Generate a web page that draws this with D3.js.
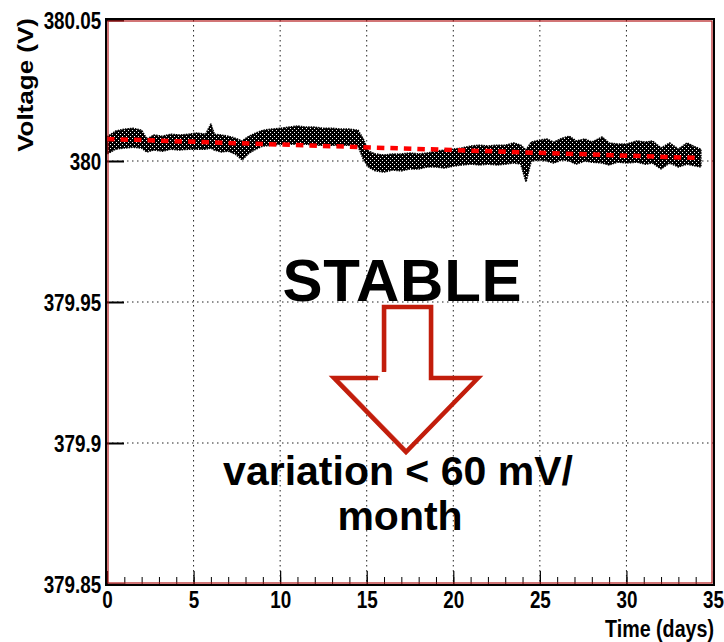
<!DOCTYPE html>
<html>
<head>
<meta charset="utf-8">
<script src="https://cdn.jsdelivr.net/npm/d3@7"></script>
<style>
  body { margin: 0; background: #fff; }
  svg text { font-family: "Liberation Sans", Arial, Helvetica, sans-serif; font-weight: bold; }
</style>
</head>
<body>
<svg id="chart" width="724" height="642"></svg>
<script>
// envelope of the black point cloud (V) and the red fit
var days = [0, 0.5, 1, 1.5, 2, 2.3, 2.7, 3.2, 3.7, 4.2, 4.7, 5.2, 5.7, 6, 6.2, 6.6, 7, 7.4, 7.8, 8.2,
  8.6, 9, 9.5, 10, 10.5, 11, 11.5, 12, 12.5, 13, 13.5, 14, 14.5, 14.8, 15.1, 15.5, 16, 16.5, 17, 17.5,
  18, 18.5, 19, 19.5, 20, 20.5, 21, 21.5, 22, 22.5, 23, 23.5, 23.9, 24.2, 24.5, 25, 25.4, 25.8, 26.3, 26.7,
  27.1, 27.6, 28, 28.6, 29, 29.5, 30, 30.6, 31.1, 31.5, 32, 32.5, 33, 33.5, 34, 34.3]
var upperV = [380.0085, 380.0106, 380.0113, 380.0116, 380.0109, 380.0078, 380.0092, 380.0088, 380.0095, 380.0092,
  380.0095, 380.0099, 380.0095, 380.0131, 380.0095, 380.0092, 380.0088, 380.0081, 380.0071, 380.0088,
  380.0099, 380.0109, 380.0113, 380.0116, 380.0120, 380.0124, 380.0120, 380.0120, 380.0116, 380.0116,
  380.0113, 380.0113, 380.0109, 380.0078, 380.0035, 380.0025, 380.0021, 380.0025, 380.0025, 380.0028,
  380.0025, 380.0028, 380.0035, 380.0039, 380.0042, 380.0046, 380.0053, 380.0056, 380.0053, 380.0056,
  380.0056, 380.0064, 380.0056, 380.0039, 380.0067, 380.0074, 380.0078, 380.0067, 380.0081, 380.0088,
  380.0071, 380.0078, 380.0067, 380.0085, 380.0064, 380.0060, 380.0060, 380.0071, 380.0067, 380.0071,
  380.0046, 380.0064, 380.0042, 380.0064, 380.0049, 380.0042]
var lowerV = [380.0025, 380.0042, 380.0046, 380.0049, 380.0046, 380.0032, 380.0039, 380.0035, 380.0042, 380.0039,
  380.0042, 380.0042, 380.0042, 380.0046, 380.0039, 380.0032, 380.0035, 380.0025, 380.0004, 380.0028,
  380.0042, 380.0053, 380.0056, 380.0060, 380.0060, 380.0060, 380.0060, 380.0056, 380.0056, 380.0056,
  380.0056, 380.0056, 380.0053, 380.0007, 379.9979, 379.9965, 379.9961, 379.9968, 379.9965, 379.9972,
  379.9972, 379.9979, 379.9979, 379.9975, 379.9982, 379.9986, 379.9989, 379.9986, 379.9989, 379.9986,
  379.9989, 379.9993, 379.9989, 379.9926, 380.0000, 380.0004, 380.0000, 379.9993, 380.0004, 380.0000,
  379.9989, 380.0000, 379.9996, 379.9993, 379.9986, 379.9996, 379.9993, 379.9996, 379.9989, 379.9993,
  379.9972, 379.9993, 379.9979, 379.9989, 379.9982, 379.9979]
var fitDays = [0, 34.1]
var fitV = [380.0078, 380.0011]

var xTicks = [0, 5, 10, 15, 20, 25, 30, 35]
var yTicks = [379.85, 379.9, 379.95, 380, 380.05]

var svg = d3.select("#chart")
var W = +svg.attr("width"), H = +svg.attr("height")
var margin = {left: 107, top: 20, right: 11, bottom: 58}
var plotW = W - margin.left - margin.right
var plotH = H - margin.top - margin.bottom

var x = d3.scaleLinear().domain([0, 35]).range([0, plotW])
var y = d3.scaleLinear().domain([379.85, 380.05]).range([plotH, 0])

// speckle texture so the cloud looks like dense markers, not a solid ribbon
var pat = svg.append("defs").append("pattern").attr("id", "speckle")
  .attr("width", 4).attr("height", 4).attr("patternUnits", "userSpaceOnUse")
pat.append("rect").attr("width", 4).attr("height", 4).attr("fill", "#000")
pat.append("rect").attr("x", 1).attr("y", 2).attr("width", 1).attr("height", 1).attr("fill", "#fff")
pat.append("rect").attr("x", 3).attr("y", 0).attr("width", 1).attr("height", 1).attr("fill", "#fff")

var g = svg.append("g").attr("transform", "translate(" + margin.left + "," + margin.top + ")")

// dotted grid
g.selectAll(".vgrid").data(xTicks.slice(1, -1)).enter().append("line")
  .attr("x1", function(d) { return x(d) }).attr("x2", function(d) { return x(d) })
  .attr("y1", 0).attr("y2", plotH)
  .attr("stroke", "#222").attr("stroke-width", 1).attr("stroke-dasharray", "1.5,3.5")
g.selectAll(".hgrid").data(yTicks.slice(1, -1)).enter().append("line")
  .attr("x1", 0).attr("x2", plotW)
  .attr("y1", function(d) { return y(d) }).attr("y2", function(d) { return y(d) })
  .attr("stroke", "#222").attr("stroke-width", 1).attr("stroke-dasharray", "1.5,3.5")

// point cloud envelope
var idx = d3.range(days.length)
var band = d3.area()
  .x(function(i) { return x(days[i]) })
  .y0(function(i) { return y(lowerV[i]) })
  .y1(function(i) { return y(upperV[i]) })
g.append("path").datum(idx).attr("d", band)
  .attr("fill", "url(#speckle)").attr("stroke", "#000").attr("stroke-width", 1.6)
  .attr("stroke-dasharray", "1.5,1").attr("stroke-linejoin", "round")

// linear fit
var fit = d3.line().x(function(i) { return x(fitDays[i]) }).y(function(i) { return y(fitV[i]) })
g.append("path").datum([0, 1]).attr("d", fit)
  .attr("fill", "none").attr("stroke", "#ff0000").attr("stroke-width", 4.5)
  .attr("stroke-dasharray", "7.5,6")

// axes
var yAxis = d3.axisLeft(y).tickValues(yTicks).tickSizeInner(-17).tickSizeOuter(0).tickPadding(7)
  .tickFormat(function(d) { return d3.format("")(+d.toFixed(2)) })
var ya = g.append("g").call(yAxis)
ya.select(".domain").remove()
ya.selectAll("line").attr("stroke", "#000").attr("stroke-width", 2)
ya.selectAll("text").attr("font-size", 23).attr("fill", "#000")
  .attr("transform", "scale(0.82,1)").attr("dy", "0.36em")

var xMinor = d3.axisBottom(x).tickValues(d3.range(0, 36, 1)).tickSizeInner(-7).tickSizeOuter(0).tickFormat("")
var xm = g.append("g").attr("transform", "translate(0," + plotH + ")").call(xMinor)
xm.select(".domain").remove()
xm.selectAll("line").attr("stroke", "#000").attr("stroke-width", 1)

var xAxis = d3.axisBottom(x).tickValues(xTicks).tickSizeInner(-13).tickSizeOuter(0).tickPadding(8)
var xa = g.append("g").attr("transform", "translate(0," + plotH + ")").call(xAxis)
xa.select(".domain").remove()
xa.selectAll("line").attr("stroke", "#000").attr("stroke-width", 1.2)
xa.selectAll("text").attr("font-size", 23).attr("fill", "#000").attr("transform", "scale(0.82,1)")

// frame: black outside, red inside
g.append("rect").attr("x", -1).attr("y", -1).attr("width", plotW + 2).attr("height", plotH + 2)
  .attr("fill", "none").attr("stroke", "#000").attr("stroke-width", 2)
g.append("rect").attr("x", 1).attr("y", 1).attr("width", plotW - 2).attr("height", plotH - 2)
  .attr("fill", "none").attr("stroke", "#b4191b").attr("stroke-width", 1.2)

// axis titles
svg.append("text").attr("transform", "translate(714,637) scale(0.82,1)")
  .attr("text-anchor", "end").attr("font-size", 24).text("Time (days)")
svg.append("text").attr("transform", "translate(33,18) scale(0.82,1) rotate(-90)")
  .attr("text-anchor", "end").attr("font-size", 26).text("Voltage (V)")

// annotation
svg.append("text").attr("x", 402).attr("y", 301).attr("text-anchor", "middle")
  .attr("font-size", 60).attr("textLength", 239).text("STABLE")

var arrow = d3.line()
var arrowShaft = [[384, 372], [384, 307], [431, 307], [431, 378], [478, 378], [406, 452], [334, 378], [378, 378]]
svg.append("path").attr("d", arrow(arrowShaft))
  .attr("fill", "none").attr("stroke", "#c21e0c").attr("stroke-width", 4.5).attr("stroke-linejoin", "miter")
svg.append("path").attr("d", arrow(arrowShaft.map(function(p) { return [p[0] + 1.5, p[1] - 1.2] })))
  .attr("fill", "none").attr("stroke", "#c21e0c").attr("stroke-width", 1.5).attr("opacity", 0.55)

svg.append("text").attr("x", 398).attr("y", 485).attr("text-anchor", "middle")
  .attr("font-size", 41).text("variation < 60 mV/")
svg.append("text").attr("x", 400).attr("y", 530).attr("text-anchor", "middle")
  .attr("font-size", 41).text("month")
</script>
</body>
</html>
